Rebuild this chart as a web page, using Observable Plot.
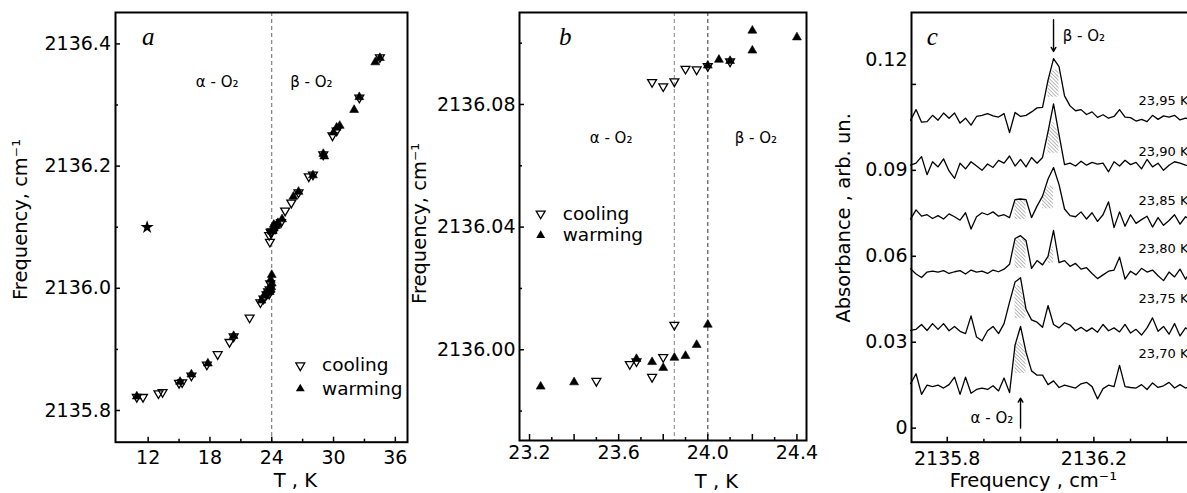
<!DOCTYPE html>
<html><head><meta charset="utf-8">
<script src="https://cdn.jsdelivr.net/npm/d3@7"></script>
<script src="https://cdn.jsdelivr.net/npm/@observablehq/plot@0.6"></script>
<style>
html,body{margin:0;padding:0;background:#fff;overflow:hidden;}
#wrap{position:relative;width:1187px;height:493px;overflow:hidden;background:#fff;}
#wrap svg{position:absolute;top:0;}
</style></head><body><div id="wrap"></div>
<script>
// ---------- Panel a data ----------
const aCoolT = [10.9,11.5,13.0,13.4,15.0,15.3,16.2,17.7,18.75,19.9,20.3,21.85,22.9,23.2,23.5,23.65,23.75,23.8,23.85,23.75,23.82,23.9,23.95,24.0,24.4,24.9,25.3,25.9,26.6,27.6,28.0,29.0,29.9,30.3,32.5,34.5];
const aCoolF = [2135.822,2135.822,2135.828,2135.830,2135.845,2135.846,2135.857,2135.875,2135.892,2135.912,2135.921,2135.952,2135.977,2135.983,2135.990,2135.995,2135.991,2135.998,2136.008,2136.087,2136.076,2136.092,2136.091,2136.093,2136.100,2136.108,2136.127,2136.140,2136.157,2136.183,2136.186,2136.219,2136.250,2136.258,2136.312,2136.378];
const aWarmT = [10.9,15.1,16.2,17.8,20.3,23.0,23.25,23.4,23.55,23.68,23.75,23.8,23.85,23.9,23.95,24.0,23.9,24.0,24.0,24.05,24.1,24.2,24.2,24.4,24.6,25.0,26.1,26.6,28.0,29.0,29.1,30.0,30.3,30.6,32.0,32.5,34.05,34.5];
const aWarmF = [2135.823,2135.847,2135.859,2135.877,2135.922,2135.980,2135.988,2135.989,2135.993,2135.997,2135.996,2135.994,2135.997,2135.998,2136.002,2136.008,2136.014,2136.022,2136.093,2136.095,2136.094,2136.104,2136.098,2136.102,2136.107,2136.113,2136.150,2136.158,2136.185,2136.220,2136.216,2136.255,2136.263,2136.266,2136.292,2136.313,2136.370,2136.377];
const aStarT = [11.9];
const aStarF = [2136.100];
const aXMajor = [12,18,24,30,36];
const aXMinor = [15,21,27,33];
const aYMajor = [2135.8,2136.0,2136.2,2136.4];
const aYMinor = [2135.9,2136.1,2136.3];

// ---------- Panel b data ----------
const bCoolT = [23.50,23.65,23.68,23.75,23.80,23.85,23.75,23.80,23.85,23.90,23.95,24.00,24.10];
const bCoolF = [2135.9898,2135.9953,2135.9962,2135.9911,2135.9976,2136.0081,2136.0873,2136.0859,2136.0875,2136.0916,2136.0914,2136.0925,2136.0940];
const bWarmT = [23.25,23.40,23.68,23.75,23.80,23.85,23.90,23.95,24.00,24.00,24.05,24.10,24.20,24.20,24.40];
const bWarmF = [2135.9880,2135.9894,2135.9970,2135.9960,2135.9941,2135.9974,2135.9980,2136.0016,2136.0082,2136.0927,2136.0946,2136.0942,2136.1041,2136.0976,2136.1019];
const bXLabeled = [23.2,23.6,24.0,24.4];
const bXMajor = [23.4,23.8,24.2];
const bXMinor = [23.3,23.5,23.7,23.9,24.1,24.3];
const bYMajor = [2136.00,2136.04,2136.08];
const bYMinor = [2135.98,2136.02,2136.06,2136.10];
const bTransitions = [23.85, 24.0];

// ---------- Panel c data ----------
const freq = [2135.700,2135.715,2135.730,2135.745,2135.760,2135.775,2135.790,2135.805,2135.820,2135.835,2135.850,2135.865,2135.880,2135.895,2135.910,2135.925,2135.940,2135.955,2135.970,2135.985,2136.000,2136.015,2136.030,2136.045,2136.060,2136.075,2136.090,2136.105,2136.120,2136.135,2136.150,2136.165,2136.180,2136.195,2136.210,2136.225,2136.240,2136.255,2136.270,2136.285,2136.300,2136.315,2136.330,2136.345,2136.360,2136.375,2136.390,2136.405,2136.420,2136.435,2136.450,2136.465];
const s2395 = [0.1075,0.1112,0.1068,0.1070,0.1092,0.1075,0.1100,0.1082,0.1100,0.1065,0.1082,0.1058,0.1088,0.1092,0.1098,0.1090,0.1086,0.1098,0.1032,0.1102,0.1088,0.1092,0.1104,0.1118,0.1120,0.1215,0.1290,0.1262,0.1160,0.1125,0.1108,0.1112,0.1095,0.1104,0.1085,0.1094,0.1082,0.1088,0.1112,0.1086,0.1084,0.1072,0.1078,0.1070,0.1092,0.1078,0.1090,0.1086,0.1092,0.1076,0.1082,0.1078];
const s2390 = [0.0918,0.0925,0.0948,0.0885,0.0930,0.0912,0.0940,0.0898,0.0872,0.0925,0.0905,0.0930,0.0915,0.0900,0.0922,0.0910,0.0935,0.0925,0.0950,0.0915,0.0938,0.0912,0.0945,0.0925,0.0945,0.1035,0.1132,0.1025,0.0920,0.0925,0.0915,0.0932,0.0918,0.0928,0.0922,0.0925,0.0895,0.0930,0.0915,0.0935,0.0920,0.0928,0.0905,0.0938,0.0912,0.0925,0.0900,0.0918,0.0930,0.0925,0.0918,0.0915];
const s2385 = [0.0730,0.0762,0.0740,0.0745,0.0732,0.0742,0.0730,0.0748,0.0738,0.0726,0.0752,0.0695,0.0738,0.0752,0.0745,0.0755,0.0740,0.0745,0.0735,0.0798,0.0800,0.0798,0.0735,0.0775,0.0810,0.0870,0.0910,0.0850,0.0765,0.0742,0.0738,0.0755,0.0730,0.0752,0.0722,0.0745,0.0790,0.0700,0.0755,0.0705,0.0745,0.0715,0.0728,0.0740,0.0702,0.0735,0.0708,0.0725,0.0745,0.0712,0.0738,0.0725];
const s2380 = [0.0556,0.0538,0.0526,0.0545,0.0548,0.0545,0.0550,0.0540,0.0546,0.0550,0.0538,0.0552,0.0545,0.0548,0.0540,0.0552,0.0546,0.0555,0.0572,0.0662,0.0672,0.0655,0.0558,0.0585,0.0570,0.0600,0.0690,0.0578,0.0585,0.0565,0.0575,0.0555,0.0560,0.0540,0.0522,0.0535,0.0548,0.0552,0.0597,0.0520,0.0548,0.0535,0.0558,0.0545,0.0552,0.0532,0.0515,0.0545,0.0528,0.0555,0.0520,0.0550];
const s2375 = [0.0341,0.0345,0.0362,0.0341,0.0365,0.0345,0.0365,0.0340,0.0355,0.0338,0.0330,0.0392,0.0318,0.0305,0.0340,0.0355,0.0330,0.0365,0.0440,0.0510,0.0525,0.0415,0.0378,0.0370,0.0352,0.0428,0.0362,0.0350,0.0368,0.0360,0.0340,0.0352,0.0338,0.0350,0.0335,0.0362,0.0340,0.0350,0.0336,0.0362,0.0332,0.0345,0.0325,0.0350,0.0385,0.0338,0.0355,0.0328,0.0365,0.0322,0.0350,0.0338];
const s2370 = [0.0155,0.0190,0.0118,0.0150,0.0145,0.0150,0.0140,0.0152,0.0178,0.0118,0.0178,0.0122,0.0135,0.0140,0.0135,0.0148,0.0130,0.0175,0.0124,0.0290,0.0355,0.0265,0.0200,0.0185,0.0185,0.0152,0.0165,0.0142,0.0150,0.0145,0.0140,0.0155,0.0160,0.0145,0.0102,0.0138,0.0150,0.0145,0.0219,0.0145,0.0142,0.0140,0.0152,0.0135,0.0158,0.0142,0.0148,0.0160,0.0140,0.0152,0.0140,0.0148];
const specLabels = ["23,95 K","23,90 K","23,85 K","23,80 K","23,75 K","23,70 K"];
const specSeries = [s2395,s2390,s2385,s2380,s2375,s2370];
// hatched regions under the peaks: [spectrum, from, to, lower, upper]
const hatchSpec = [
  ["23,95 K",2136.075,2136.105,0.1155,0.1250],
  ["23,90 K",2136.075,2136.105,0.0960,0.1070],
  ["23,85 K",2135.985,2136.015,0.0728,0.0795],
  ["23,85 K",2136.060,2136.090,0.0766,0.0845],
  ["23,80 K",2135.985,2136.015,0.0557,0.0660],
  ["23,80 K",2136.075,2136.090,0.0575,0.0640],
  ["23,75 K",2135.985,2136.015,0.0382,0.0497],
  ["23,70 K",2135.985,2136.015,0.0191,0.0306]
];
const cXLabeled = [2135.8,2136.2];
const cXMajor = [2136.0,2136.4];
const cXMinor = [2135.9,2136.1,2136.3,2136.5];
const cYLabeled = [0,0.03,0.06,0.09];
const cYTop = [0.12];

// ---------- helpers ----------
const SANS = "DejaVu Sans";
const SERIF = "Liberation Serif";
const triDown = {draw(ctx, size){const y = -Math.sqrt(size/(Math.sqrt(3)*3)); ctx.moveTo(0,-2*y); ctx.lineTo(-Math.sqrt(3)*y,y); ctx.lineTo(Math.sqrt(3)*y,y); ctx.closePath();}};
const zip = (T,F) => T.map((t,i)=>({t, f:F[i]}));
const noText = () => "";
const baseStyle = {fontFamily: SANS, fontSize: "19px", color: "black", background: "transparent", overflow: "visible"};
const wrap = document.getElementById("wrap");
function place(svg, left){ svg.style.left = left + "px"; wrap.appendChild(svg); }
const yTitle = {frameAnchor: "left", rotate: -90, textAnchor: "middle", lineAnchor: "middle", fontSize: 19.5};
const xTitle = {frameAnchor: "bottom", textAnchor: "middle", lineAnchor: "middle", fontSize: 19.5};

// ---------- Panel a ----------
const svgA = Plot.plot({
  width: 410, height: 493,
  marginLeft: 115, marginRight: 3, marginTop: 12, marginBottom: 51.3,
  x: {domain: [8.83, 37.18]},
  y: {domain: [2135.7481, 2136.4514]},
  style: baseStyle,
  marks: [
    Plot.ruleX([24], {stroke: "#666", strokeDasharray: "4,3", strokeWidth: 1}),
    Plot.axisX({ticks: aXMajor, tickSize: -5, tickPadding: 13, strokeWidth: 1.5, label: null}),
    Plot.axisX({ticks: aXMinor, tickSize: -3, tickFormat: noText, strokeWidth: 1.5, label: null}),
    Plot.axisY({ticks: aYMajor, tickSize: -5, tickPadding: 9.5, tickFormat: d3.format(".1f"), strokeWidth: 1.5, label: null}),
    Plot.axisY({ticks: aYMinor, tickSize: -3, tickFormat: noText, strokeWidth: 1.5, label: null}),
    Plot.frame({stroke: "black", strokeWidth: 2}),
    Plot.dot(zip(aWarmT, aWarmF), {x: "t", y: "f", symbol: "triangle", r: 3.3, fill: "black", stroke: "black", strokeWidth: 0.6}),
    Plot.dot(zip(aCoolT, aCoolF), {x: "t", y: "f", symbol: triDown, r: 3.3, fill: "none", stroke: "black", strokeWidth: 1.3}),
    Plot.dot(zip(aStarT, aStarF), {x: "t", y: "f", symbol: "star", r: 4.2, fill: "black"}),
    Plot.text(["a"], {x: 12.0, y: 2136.411, fontFamily: SERIF, fontStyle: "italic", fontSize: 25}),
    Plot.text(["α - O₂"], {x: 18.7, y: 2136.337, fontSize: 15}),
    Plot.text(["β - O₂"], {x: 27.85, y: 2136.337, fontSize: 15}),
    Plot.dot(["cooling"], {x: 26.77, y: 2135.8736, symbol: triDown, r: 3.3, fill: "none", stroke: "black", strokeWidth: 1.3}),
    Plot.dot(["warming"], {x: 26.77, y: 2135.8355, symbol: "triangle", r: 3.3, fill: "black"}),
    Plot.text(["cooling", "warming"], {x: 28.88, y: [2135.8736, 2135.8355], text: d => d, textAnchor: "start", fontSize: 18.5}),
    Plot.text(["T , K"], {...xTitle, x: 26.29, dy: 39}),
    Plot.text(["Frequency, cm⁻¹"], {...yTitle, y: 2136.1126, dx: -94.5})
  ]
});
place(svgA, 0);

// ---------- Panel b ----------
const svgB = Plot.plot({
  width: 400, height: 493,
  marginLeft: 107, marginRight: 6, marginTop: 12, marginBottom: 53,
  x: {domain: [23.155, 24.443]},
  y: {domain: [2135.9704, 2136.1100]},
  style: baseStyle,
  marks: [
    Plot.ruleX([bTransitions[0]], {stroke: "#999", strokeDasharray: "4,3", strokeWidth: 1.2}),
    Plot.ruleX([bTransitions[1]], {stroke: "#555", strokeDasharray: "4,3", strokeWidth: 1.2}),
    Plot.axisX({ticks: bXLabeled, tickSize: -6, tickPadding: 11, tickFormat: d3.format(".1f"), strokeWidth: 1.5, label: null}),
    Plot.axisX({ticks: bXMajor, tickSize: -6, tickFormat: noText, strokeWidth: 1.5, label: null}),
    Plot.axisX({ticks: bXMinor, tickSize: -3, tickFormat: noText, strokeWidth: 1.5, label: null}),
    Plot.axisY({ticks: bYMajor, tickSize: -5, tickPadding: 9, tickFormat: d3.format(".2f"), strokeWidth: 1.5, label: null}),
    Plot.axisY({ticks: bYMinor, tickSize: -3, tickFormat: noText, strokeWidth: 1.5, label: null}),
    Plot.frame({stroke: "black", strokeWidth: 2}),
    Plot.dot(zip(bWarmT, bWarmF), {x: "t", y: "f", symbol: "triangle", r: 3.3, fill: "black", stroke: "black", strokeWidth: 0.6}),
    Plot.dot(zip(bCoolT, bCoolF), {x: "t", y: "f", symbol: triDown, r: 3.3, fill: "none", stroke: "black", strokeWidth: 1.3}),
    Plot.text(["b"], {x: 23.36, y: 2136.1019, fontFamily: SERIF, fontStyle: "italic", fontSize: 25}),
    Plot.text(["α - O₂"], {x: 23.566, y: 2136.0689, fontSize: 15}),
    Plot.text(["β - O₂"], {x: 24.216, y: 2136.0689, fontSize: 15}),
    Plot.dot(["cooling"], {x: 23.25, y: 2136.0444, symbol: triDown, r: 3.3, fill: "none", stroke: "black", strokeWidth: 1.3}),
    Plot.dot(["warming"], {x: 23.25, y: 2136.0373, symbol: "triangle", r: 3.3, fill: "black"}),
    Plot.text(["cooling", "warming"], {x: 23.349, y: [2136.0444, 2136.0373], text: d => d, textAnchor: "start", fontSize: 18.5}),
    Plot.text(["T , K"], {...xTitle, x: 24.039, dy: 41}),
    Plot.text(["Frequency, cm⁻¹"], {...yTitle, y: 2136.0412, dx: -100})
  ]
});
place(svgB, 412);

// ---------- Panel c ----------
const specData = specSeries.flatMap((vals, k) => vals.map((a, i) => ({id: specLabels[k], f: freq[i], a})));
const hatchData = hatchSpec.flatMap(([id, f0, f1, lo, hi], k) => {
  const vals = specSeries[specLabels.indexOf(id)];
  return freq.map((f, i) => ({key: k, f, a: vals[i]}))
    .filter(d => d.f >= f0 - 1e-9 && d.f <= f1 + 1e-9)
    .map(d => ({key: d.key, f: d.f, lo, hi: Math.min(Math.max(d.a, lo), hi)}));
});
const svgC = Plot.plot({
  width: 420, height: 493,
  marginLeft: 99, marginRight: 7, marginTop: 12, marginBottom: 51.3,
  x: {domain: [2135.7026, 2136.559]},
  y: {domain: [-0.0049, 0.1451]},
  style: baseStyle,
  marks: [
    Plot.areaY(hatchData, {x: "f", y1: "lo", y2: "hi", z: "key", fill: "url(#hatch)"}),
    Plot.line(specData, {x: "f", y: "a", z: "id", stroke: "black", strokeWidth: 1.3}),
    Plot.axisX({ticks: cXLabeled, tickSize: -5, tickPadding: 14, tickFormat: d3.format(".1f"), strokeWidth: 1.5, label: null}),
    Plot.axisX({ticks: cXMajor, tickSize: -5, tickFormat: noText, strokeWidth: 1.5, label: null}),
    Plot.axisX({ticks: cXMinor, tickSize: -3, tickFormat: noText, strokeWidth: 1.5, label: null}),
    Plot.axisY({ticks: cYLabeled, tickSize: -5, tickPadding: 9, tickFormat: d => d === 0 ? "0" : d3.format(".2f")(d), strokeWidth: 1.5, label: null}),
    Plot.axisY({ticks: cYTop, tickSize: -5, tickFormat: noText, strokeWidth: 1.5, label: null}),
    Plot.text(cYTop, {y: d => d, frameAnchor: "left", text: d => d3.format(".2f")(d), textAnchor: "end", dx: -4, dy: -24}),
    Plot.frame({stroke: "black", strokeWidth: 2}),
    Plot.text(specLabels, {x: 2136.322, y: [0.1143, 0.0963, 0.0795, 0.0627, 0.0453, 0.0261], text: d => d, textAnchor: "start", fontSize: 13}),
    Plot.arrow([0], {x1: 2136.09, x2: 2136.09, y1: 0.1426, y2: 0.1315, stroke: "black", strokeWidth: 1.4, headLength: 5}),
    Plot.arrow([0], {x1: 2136.0, x2: 2136.0, y1: 0.0, y2: 0.0105, stroke: "black", strokeWidth: 1.4, headLength: 5}),
    Plot.text(["β - O₂"], {x: 2136.115, y: 0.137, textAnchor: "start", fontSize: 15}),
    Plot.text(["α - O₂"], {x: 2135.98, y: 0.0034, textAnchor: "end", fontSize: 15}),
    Plot.text(["c"], {x: 2135.759, y: 0.1365, fontFamily: SERIF, fontStyle: "italic", fontSize: 25}),
    Plot.text(["Frequency , cm⁻¹"], {...xTitle, x: 2136.035, dy: 39}),
    Plot.text(["Absorbance , arb. un."], {...yTitle, y: 0.0734, dx: -68})
  ]
});
d3.select(svgC).insert("defs", ":first-child").html(
  '<pattern id="hatch" width="2.6" height="2.6" patternUnits="userSpaceOnUse" patternTransform="rotate(-45)">' +
  '<line x1="0" y1="0" x2="0" y2="2.6" stroke="#555" stroke-width="0.8"/></pattern>');
place(svgC, 812);
</script></body></html>
